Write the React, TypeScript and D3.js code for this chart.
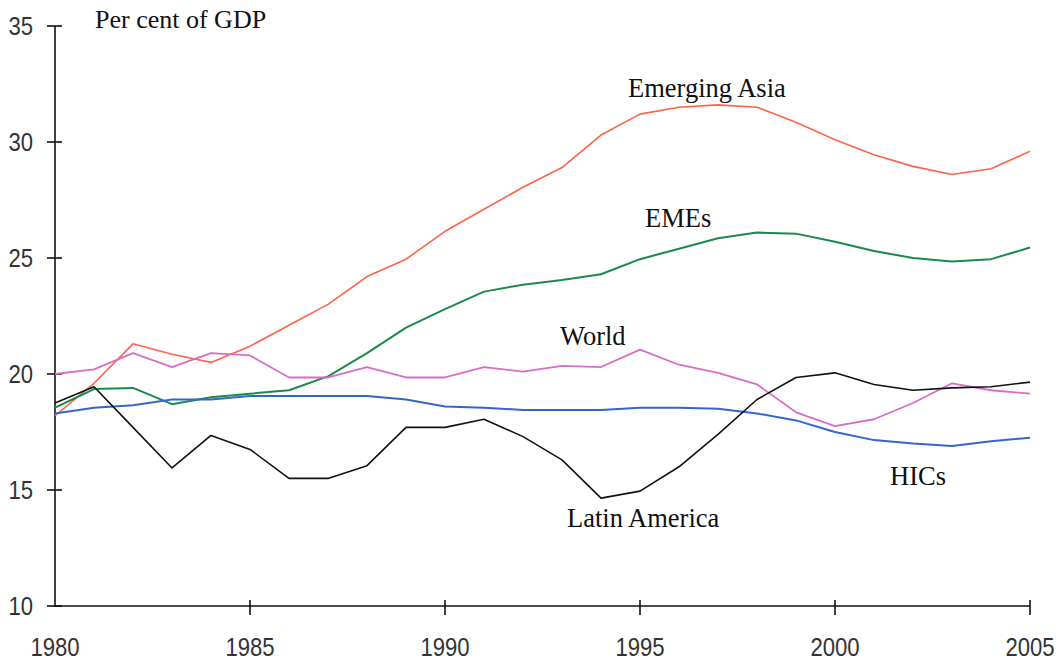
import React from 'react';
import * as d3 from 'd3';

// chart data
const years = d3.range(1980, 2006);
const emergingAsia = [18.2, 19.6, 21.3, 20.85, 20.5, 21.2, 22.1, 23.0, 24.2, 24.95, 26.15, 27.1, 28.05, 28.9, 30.3, 31.2, 31.5, 31.6, 31.5, 30.85, 30.1, 29.45, 28.95, 28.6, 28.85, 29.6];
const emes = [18.55, 19.35, 19.4, 18.7, 19.0, 19.15, 19.3, 19.9, 20.9, 22.0, 22.8, 23.55, 23.85, 24.05, 24.3, 24.95, 25.4, 25.85, 26.1, 26.05, 25.7, 25.3, 25.0, 24.85, 24.95, 25.45];
const world = [20.0, 20.2, 20.9, 20.3, 20.9, 20.8, 19.85, 19.85, 20.3, 19.85, 19.85, 20.3, 20.1, 20.35, 20.3, 21.05, 20.4, 20.05, 19.55, 18.35, 17.75, 18.05, 18.75, 19.6, 19.3, 19.15];
const hics = [18.3, 18.55, 18.65, 18.9, 18.9, 19.05, 19.05, 19.05, 19.05, 18.9, 18.6, 18.55, 18.45, 18.45, 18.45, 18.55, 18.55, 18.5, 18.3, 18.0, 17.5, 17.15, 17.0, 16.9, 17.1, 17.25];
const latinAmerica = [18.75, 19.45, 17.7, 15.95, 17.35, 16.75, 15.5, 15.5, 16.05, 17.7, 17.7, 18.05, 17.3, 16.3, 14.65, 14.95, 16.0, 17.4, 18.9, 19.85, 20.05, 19.55, 19.3, 19.4, 19.45, 19.65];

const yTicks = [10, 15, 20, 25, 30, 35];
const xTicks = [1980, 1985, 1990, 1995, 2000, 2005];

const series = [
    { name: 'Emerging Asia', values: emergingAsia, color: '#ff6347', width: 1.6, label: [628, 97] },
    { name: 'EMEs', values: emes, color: '#1a8a4c', width: 2, label: [645, 227] },
    { name: 'World', values: world, color: '#d96cc4', width: 1.8, label: [560, 345] },
    { name: 'HICs', values: hics, color: '#3366cc', width: 2, label: [890, 485] },
    { name: 'Latin America', values: latinAmerica, color: '#111111', width: 1.6, label: [567, 527] },
];

const W = 1062, H = 666;
const tickFont = '"Liberation Sans", Arial, sans-serif';
const textFont = '"Liberation Serif", "Times New Roman", serif';

// narrow digits like the original bitmap font
function TickText({ x, y, anchor, children, dy }: any) {
    const s = String(children);
    return (
        <text x={x} y={y} dy={dy} textAnchor={anchor} fontFamily={tickFont} fontSize={25} fill="#333"
              textLength={s.length * 12.3} lengthAdjust="spacingAndGlyphs">{s}</text>
    );
}

export default function App() {
    const x = d3.scaleLinear().domain([1980, 2005]).range([55, 1030]);
    const y = d3.scaleLinear().domain([10, 35]).range([606, 26]);
    const line = d3.line<number>()
        .x((d, i) => x(years[i]))
        .y(d => y(d));

    return (
        <svg width={W} height={H} style={{ position: 'absolute', left: 0, top: 0, background: '#fff' }}>
            {/* y axis */}
            <line x1={x(1980)} x2={x(1980)} y1={y(35)} y2={y(10) + 1} stroke="#111" strokeWidth={1.6} />
            {yTicks.map(t => (
                <g key={t}>
                    <line x1={x(1980) - 8} x2={x(1980) + 7} y1={y(t)} y2={y(t)} stroke="#111" strokeWidth={1.6} />
                    <TickText x={33} y={y(t)} dy="0.36em" anchor="end">{t}</TickText>
                </g>
            ))}
            {/* x axis */}
            <line x1={x(1980)} x2={x(2005)} y1={y(10)} y2={y(10)} stroke="#111" strokeWidth={1.6} />
            {xTicks.map(t => (
                <g key={t}>
                    {t > 1980 && <line x1={x(t)} x2={x(t)} y1={y(10) - 6} y2={y(10) + 9} stroke="#111" strokeWidth={1.6} />}
                    <TickText x={x(t)} y={656} anchor="middle">{t}</TickText>
                </g>
            ))}
            <text x={95} y={28} fontFamily={textFont} fontSize={26} fill="#111">Per cent of GDP</text>

            {series.map(s => (
                <g key={s.name}>
                    <path d={line(s.values) || ''} fill="none" stroke={s.color} strokeWidth={s.width} strokeLinejoin="round" />
                    <text x={s.label[0]} y={s.label[1]} fontFamily={textFont} fontSize={26.5} fill="#111">{s.name}</text>
                </g>
            ))}
        </svg>
    );
}
